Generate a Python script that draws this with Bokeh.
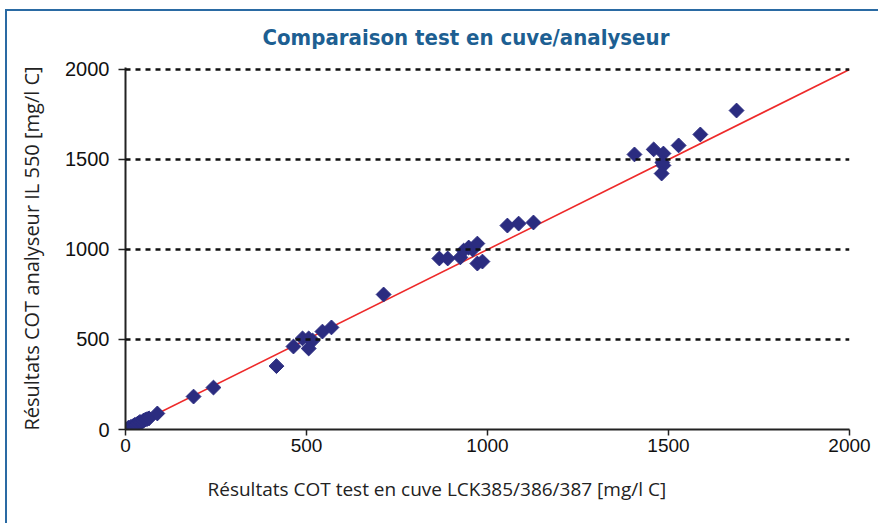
import math
from bokeh.plotting import figure
from bokeh.models import Range1d, FixedTicker, Title, Span
from bokeh.embed import file_html
from bokeh.resources import INLINE

# Data
x_cuve = [0, 5, 8, 12, 15, 20, 25, 30, 35, 40, 45, 50, 55, 60, 65,
          88, 188, 243, 417, 464, 489, 506, 517, 506, 544, 569, 713,
          867, 890, 925, 934, 948, 959, 972, 972, 986,
          1055, 1086, 1127,
          1406, 1459, 1486, 1483, 1486, 1481, 1528, 1588, 1688]
y_analyseur = [0, 3, 10, 8, 15, 18, 25, 28, 35, 42, 40, 50, 55, 58, 62,
               89, 183, 233, 352, 461, 506, 506, 494, 450, 544, 567, 750,
               950, 950, 956, 994, 1011, 1000, 1033, 922, 933,
               1133, 1144, 1150,
               1528, 1556, 1533, 1483, 1467, 1422, 1578, 1639, 1772]
fit_x = [0, 2000]
fit_y = [0, 2000]
ticks = [0, 500, 1000, 1500, 2000]
grid_levels = [500, 1000, 1500, 2000]

BLUE = "#2a6aa3"
p = figure(width=878, height=523, output_backend="svg", toolbar_location=None,
           x_range=Range1d(0, 2000), y_range=Range1d(0, 2011),
           min_border_left=125, min_border_right=29, min_border_top=67, min_border_bottom=94)
p.styles = {
    "background": (f"linear-gradient({BLUE},{BLUE}) 5px 9px / 2px 100% no-repeat, "
                   f"linear-gradient({BLUE},{BLUE}) 5px 9px / 100% 2px no-repeat"),
}
p.border_fill_alpha = 0
p.outline_line_color = None
p.background_fill_color = "white"

p.title.text = "Comparaison test en cuve/analyseur"
p.title.text_font = "DejaVu Sans Condensed"
p.title.text_font_size = "22px"
p.title.text_font_style = "bold"
p.title.text_color = "#1d5f92"
p.title.align = "left"
p.title.offset = 137
p.title.standoff = 35

for ax in (p.xaxis[0], p.yaxis[0]):
    ax.ticker = FixedTicker(ticks=ticks)
    ax.axis_line_color = "#222222"
    ax.axis_line_width = 2
    ax.major_tick_line_color = "#222222"
    ax.major_tick_line_width = 1.5
    ax.major_tick_in = 0
    ax.major_tick_out = 7
    ax.minor_tick_line_color = None
    ax.major_label_text_font = "Liberation Sans"
    ax.major_label_text_font_size = "20px"
    ax.major_label_text_color = "#111111"

p.yaxis[0].major_label_standoff = 9
p.xaxis[0].major_label_standoff = 3
p.xaxis[0].major_label_text_font_size = "19px"
p.xaxis[0].major_tick_out = 6

p.yaxis[0].axis_label = "Résultats COT analyseur IL 550 [mg/l C]"
p.yaxis[0].axis_label_text_font = "Open Sans"
p.yaxis[0].axis_label_text_font_size = "20px"
p.yaxis[0].axis_label_text_font_style = "normal"
p.yaxis[0].axis_label_text_color = "#222222"
p.yaxis[0].axis_label_standoff = 17

p.xgrid.grid_line_color = None
p.ygrid.grid_line_color = None
for lvl in grid_levels:
    p.add_layout(Span(location=lvl, dimension="width", line_color="#111111",
                      line_width=2.5, line_dash="5 5"))

p.line(fit_x, fit_y, line_color="#ee2a2a", line_width=1.6)
p.scatter(x_cuve, y_analyseur, marker="square", size=10.5, angle=math.pi / 4,
          fill_color="#2b2c80", line_color="#2b2c80")

xt = Title(text="Résultats COT test en cuve LCK385/386/387 [mg/l C]",
           text_font="Open Sans", text_font_size="19px", text_font_style="normal",
           text_color="#222222", align="left", offset=82, standoff=39)
p.add_layout(xt, "below")

open("out.html", "w").write(file_html(p, INLINE))
